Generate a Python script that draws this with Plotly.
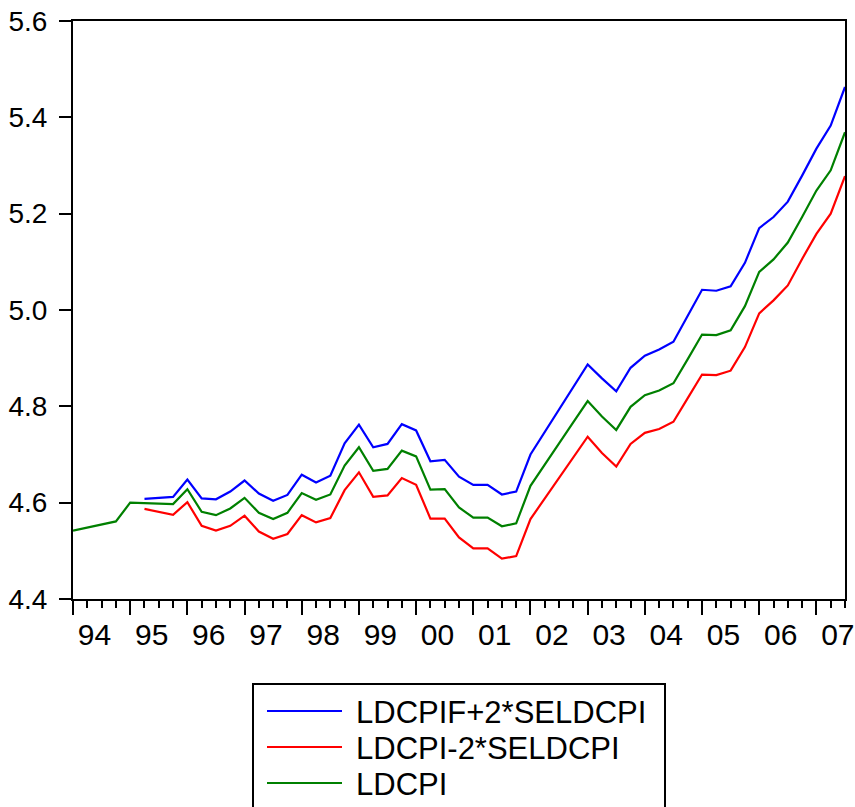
import plotly.graph_objects as go

# ---------------- data (quarterly, 1994Q1 .. 2007Q3) ----------------
start_year = 1994
n_quarters = 55
quarters = [start_year + i / 4 for i in range(n_quarters)]

ldcpi = [4.542, 4.548, 4.555, 4.561, 4.600, 4.599, 4.598, 4.597, 4.628, 4.581,
         4.574, 4.588, 4.610, 4.579, 4.566, 4.579, 4.620, 4.606, 4.617, 4.677,
         4.715, 4.666, 4.670, 4.708, 4.696, 4.627, 4.628, 4.590, 4.569, 4.569,
         4.551, 4.557, 4.635, 4.680, 4.723, 4.767, 4.811, 4.779, 4.751, 4.799,
         4.823, 4.833, 4.848, 4.898, 4.949, 4.948, 4.958, 5.008, 5.079, 5.105,
         5.140, 5.193, 5.248, 5.290, 5.369]

band_start = 5  # bands start at 1995Q2
upper = [4.608, 4.610, 4.612, 4.648, 4.609, 4.607, 4.623, 4.646, 4.619, 4.604,
         4.616, 4.658, 4.642, 4.656, 4.723, 4.762, 4.715, 4.722, 4.763, 4.750,
         4.686, 4.689, 4.654, 4.637, 4.637, 4.617, 4.623, 4.700, 4.747, 4.793,
         4.840, 4.887, 4.858, 4.831, 4.880, 4.905, 4.918, 4.934, 4.988, 5.042,
         5.040, 5.049, 5.098, 5.170, 5.193, 5.225, 5.279, 5.335, 5.383, 5.463]
lower = [4.587, 4.581, 4.575, 4.601, 4.552, 4.542, 4.552, 4.573, 4.540, 4.525,
         4.535, 4.574, 4.559, 4.568, 4.626, 4.663, 4.612, 4.615, 4.651, 4.637,
         4.567, 4.567, 4.528, 4.505, 4.505, 4.484, 4.489, 4.566, 4.609, 4.652,
         4.694, 4.737, 4.703, 4.675, 4.722, 4.745, 4.753, 4.768, 4.817, 4.866,
         4.865, 4.874, 4.923, 4.993, 5.020, 5.051, 5.106, 5.158, 5.200, 5.278]

series_names = ["LDCPIF+2*SELDCPI", "LDCPI-2*SELDCPI", "LDCPI"]
series_colors = ["#0000FF", "#FF0000", "#008000"]

year_labels = ["94", "95", "96", "97", "98", "99", "00", "01", "02", "03",
               "04", "05", "06", "07"]
label_years = list(range(1994, 2008))

FONT = "Liberation Sans, Arial, Helvetica, sans-serif"

fig = go.Figure()
band_x = quarters[band_start:]
# blue & red on the tick-mark axis, green on the (same-range) label axis
for xs, ys, name, col, xa in [(band_x, upper, series_names[0], series_colors[0], "x"),
                              (band_x, lower, series_names[1], series_colors[1], "x"),
                              (quarters, ldcpi, series_names[2], series_colors[2], "x2")]:
    fig.add_trace(go.Scatter(x=xs, y=ys, mode="lines", name=name, xaxis=xa, yaxis="y",
                             line=dict(color=col, width=2.2), showlegend=False,
                             hoverinfo="skip"))

# ---------------- layout ----------------
W, H = 855, 807
ML, MR, MT, MB = 73, 10, 21, 208
PW, PH = W - ML - MR, H - MT - MB

def px2paper_x(px):
    return (px - ML) / PW

def px2paper_y(py):
    return (H - MB - py) / PH

x_range = [start_year, start_year + (n_quarters - 1) / 4]

fig.update_layout(
    width=W, height=H,
    margin=dict(l=ML, r=MR, t=MT, b=MB, pad=0, autoexpand=False),
    paper_bgcolor="white", plot_bgcolor="white",
    font=dict(family=FONT, color="black"),
    showlegend=False,
    xaxis=dict(
        range=x_range, showgrid=False, zeroline=False, automargin=False,
        showline=True, linecolor="black", linewidth=2, mirror=True,
        tickmode="linear", tick0=start_year, dtick=1,
        ticks="outside", ticklen=14, tickwidth=2, tickcolor="black",
        showticklabels=False,
        minor=dict(tick0=start_year, dtick=0.25, ticks="outside", ticklen=7,
                   tickwidth=2, tickcolor="black", showgrid=False),
    ),
    xaxis2=dict(
        range=x_range, overlaying="x", anchor="y", side="bottom",
        showgrid=False, zeroline=False, showline=False, automargin=False,
        tickmode="array", tickvals=[y + 0.375 for y in label_years],
        ticktext=year_labels, ticks="", ticklabelstandoff=15,
        tickfont=dict(size=30, family=FONT, color="black"),
    ),
    yaxis=dict(
        range=[4.4, 5.6], showgrid=False, zeroline=False, automargin=False,
        showline=True, linecolor="black", linewidth=2, mirror=True,
        tickmode="linear", tick0=4.4, dtick=0.2, tickformat=".1f",
        ticks="outside", ticklen=12, tickwidth=2, tickcolor="black",
        ticklabelstandoff=6,
        tickfont=dict(size=28, family=FONT, color="black"),
    ),
)

# ---------------- legend box (drawn) ----------------
box_l, box_r, box_t, box_b = 253, 665, 684, 820
fig.add_shape(type="rect", xref="paper", yref="paper",
              x0=px2paper_x(box_l), x1=px2paper_x(box_r),
              y0=px2paper_y(box_b), y1=px2paper_y(box_t),
              line=dict(color="black", width=2), fillcolor="white", layer="above")
row_y = [711, 747, 783]
for name, col, ry in zip(series_names, series_colors, row_y):
    fig.add_shape(type="line", xref="paper", yref="paper",
                  x0=px2paper_x(267), x1=px2paper_x(342),
                  y0=px2paper_y(ry), y1=px2paper_y(ry),
                  line=dict(color=col, width=2), layer="above")
    fig.add_annotation(xref="paper", yref="paper",
                       x=px2paper_x(354), y=px2paper_y(ry + 1),
                       xanchor="left", yanchor="middle", showarrow=False,
                       text=name, font=dict(size=31, family=FONT, color="black"))

fig.write_html("out.html",
               config={"displayModeBar": False},
               post_script="document.body.style.margin='0';"
                           "document.body.style.overflow='hidden';")
